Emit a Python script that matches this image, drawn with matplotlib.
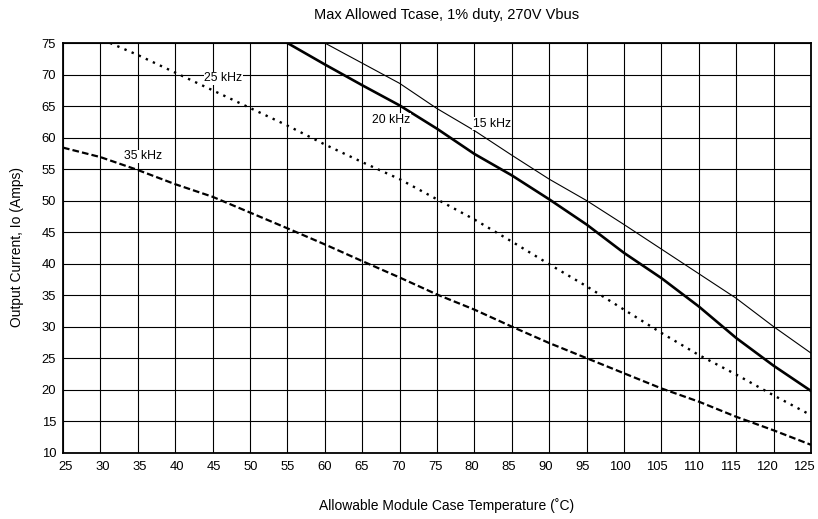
import matplotlib
matplotlib.use("Agg")
import matplotlib.pyplot as plt
from matplotlib.transforms import ScaledTranslation

plt.rcParams['font.family'] = ['Liberation Sans', 'DejaVu Sans']

# data
t15 = [60, 65, 70, 75, 80, 85, 90, 95, 100, 105, 110, 115, 120, 125]
i15 = [75, 71.8, 68.6, 64.6, 61.1, 57.2, 53.4, 50.0, 46.2, 42.3, 38.4, 34.5, 30.0, 25.8]

t20 = [55, 60, 65, 70, 75, 80, 85, 90, 95, 100, 105, 110, 115, 120, 125]
i20 = [75, 71.6, 68.3, 65.1, 61.4, 57.4, 54.0, 50.2, 46.2, 41.7, 37.7, 33.2, 28.2, 23.8, 19.8]

t25 = [31.3, 35, 40, 45, 50, 55, 60, 65, 70, 75, 80, 85, 90, 95, 100, 105, 110, 115, 120, 125]
i25 = [75, 73.1, 70.3, 67.5, 64.7, 61.9, 58.9, 56.1, 53.4, 50.2, 47.0, 43.5, 39.9, 36.4, 32.7, 29.0, 25.5, 22.4, 19.1, 15.95]

t35 = [25, 30, 35, 40, 45, 50, 55, 60, 65, 70, 75, 80, 85, 90, 95, 100, 105, 110, 115, 120, 125]
i35 = [58.4, 56.9, 54.85, 52.6, 50.6, 48.1, 45.6, 43.05, 40.4, 37.8, 35.1, 32.7, 30.0, 27.4, 25.0, 22.6, 20.2, 18.1, 15.7, 13.55, 11.25]

labels = ["15 kHz", "20 kHz", "25 kHz", "35 kHz"]
label_pos = [(79.75, 62.2), (66.3, 62.8), (43.9, 69.4), (33.2, 57.0)]

xticks = list(range(25, 126, 5))
yticks = list(range(10, 76, 5))

fig = plt.figure(figsize=(8.18, 5.19), dpi=100)
ax = fig.add_axes([63/818, 1 - 452.7/519, (811 - 63)/818, (452.7 - 43)/519])

ax.set_xlim(25, 125)
ax.set_ylim(10, 75)
ax.set_xticks(xticks)
ax.set_yticks(yticks)
ax.tick_params(length=0, labelsize=9.4, pad=5)
ax.tick_params(axis='x', pad=6)
ax.grid(True, color='black', linewidth=0.8)
ax.set_axisbelow(True)
for s in ax.spines.values():
    s.set_linewidth(1.3)
    s.set_color('black')

# the reference's x tick labels drift slightly left of their grid lines
for i, lab in enumerate(ax.get_xticklabels()):
    dx = (3.0 - 0.5 * i) / 100.0
    lab.set_transform(lab.get_transform() + ScaledTranslation(dx, 0, fig.dpi_scale_trans))

ax.plot(t15, i15, color='black', linewidth=0.8, solid_joinstyle='round', zorder=3)
ax.plot(t20, i20, color='black', linewidth=1.9, solid_joinstyle='round', zorder=3)
ax.plot(t25, i25, color='black', linewidth=1.7, linestyle=(0, (1, 2.3)), zorder=3)
ax.plot(t35, i35, color='black', linewidth=1.6, linestyle=(0, (3, 1.4)), zorder=3)

for lab, (x, y) in zip(labels, label_pos):
    ax.text(x, y, lab, fontsize=8.8, ha='left', va='center', zorder=4,
            bbox=dict(facecolor='white', edgecolor='none', pad=0.5))

fig.text(447/818, 1 - 15/519, "Max Allowed Tcase, 1% duty, 270V Vbus",
         ha='center', va='center', fontsize=10.5)
fig.text(447/818, 1 - 506/519, "Allowable Module Case Temperature (\u02daC)",
         ha='center', va='center', fontsize=10)
fig.text(17/818, 1 - 247/519, "Output Current, Io (Amps)", rotation=90,
         ha='center', va='center', fontsize=10)

fig.savefig("out.png", dpi=100)
